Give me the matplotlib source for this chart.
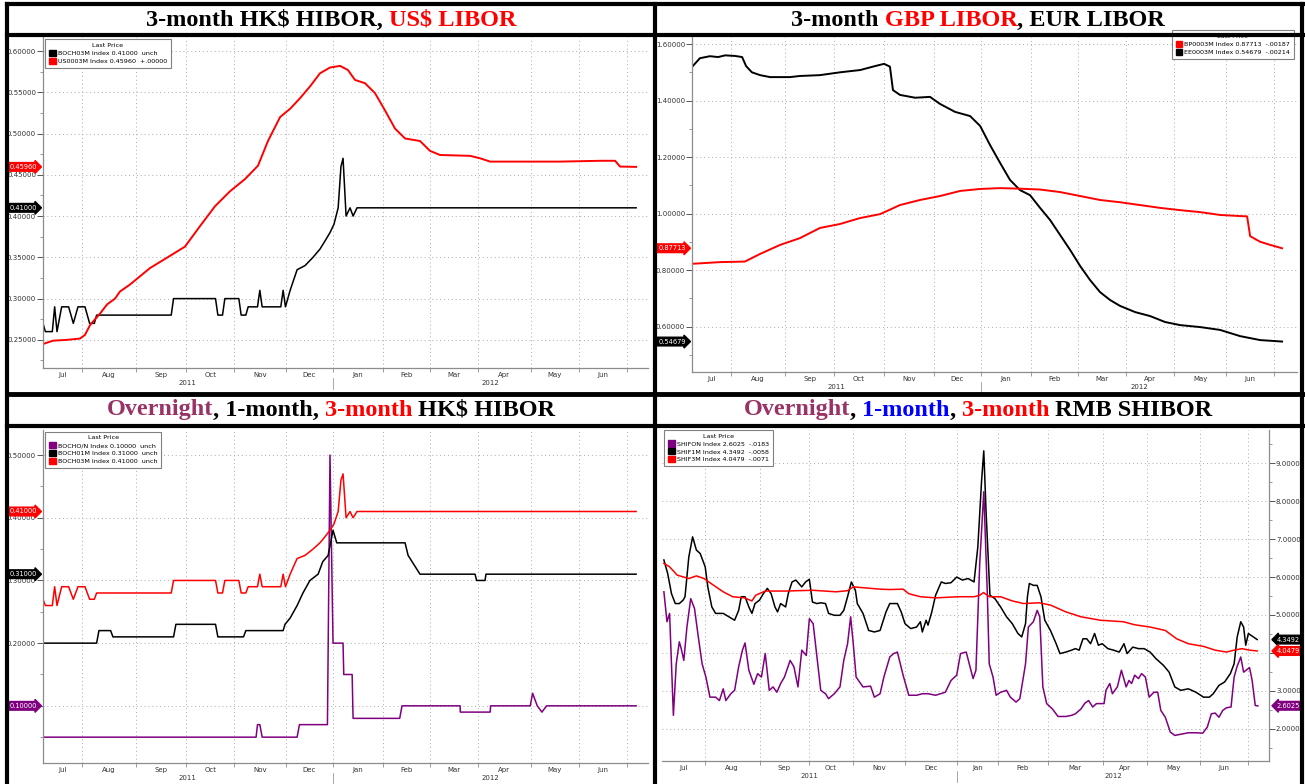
import matplotlib
matplotlib.use('Agg')
import matplotlib.pyplot as plt
from matplotlib import transforms
from matplotlib.lines import Line2D
from matplotlib.patches import Patch
from matplotlib.ticker import MultipleLocator, FuncFormatter

W, H = 1305, 784
plt.rcParams['font.family'] = ['DejaVu Sans']

RED = '#ff0000'
PURPLE = '#800080'
PLUM = '#993366'
BLUE = '#0000ff'
FS = 5.0

months = ['Jul', 'Aug', 'Sep', 'Oct', 'Nov', 'Dec', 'Jan', 'Feb', 'Mar', 'Apr', 'May', 'Jun']
years = ['2011', '2012']

# x is in trading days since the first point; month starts per market calendar
hk_month_starts = [16.8, 39.9, 61.5, 82.1, 104.4, 124.2, 145.9, 165.8, 186.6, 209.2, 230.0, 250.7]
ldn_month_starts = [16.7, 39.8, 61.0, 82.3, 103.6, 124.1, 145.4, 165.5, 186.3, 206.9, 229.2, 249.7]
cn_month_starts = [17.3, 40.3, 61.3, 79.5, 101.6, 123.7, 140.6, 161.8, 185.0, 203.7, 226.0, 246.3]

# ---- HK$ HIBOR 3M (BOCH03M)
hibor3m_d = [0, 1, 4, 5, 6, 8, 11, 13, 15, 18, 20, 22, 23, 55, 56, 74, 75, 77, 78, 84, 85, 87,
             88, 92, 93, 94, 102, 103, 104, 106, 109, 112.4, 115.8, 118.8, 121, 123.1, 124.8,
             126.6, 127.8, 128.7, 130, 131.7, 133, 134.7, 254.4]
hibor3m = [0.27, 0.26, 0.26, 0.29, 0.26, 0.29, 0.29, 0.27, 0.29, 0.29, 0.27, 0.27, 0.28, 0.28,
           0.30, 0.30, 0.28, 0.28, 0.30, 0.30, 0.28, 0.28, 0.29, 0.29, 0.31, 0.29, 0.29, 0.31,
           0.29, 0.31, 0.335, 0.34, 0.35, 0.36, 0.37, 0.38, 0.39, 0.41, 0.46, 0.47, 0.40, 0.41,
           0.40, 0.41, 0.41]

# ---- US$ LIBOR 3M (US0003M)
usd3m_d = [0, 4.3, 10.3, 15.9, 18, 20.2, 24.5, 27.5, 30.9, 33, 37.3, 45.9, 52.3, 60.9, 67.4,
           73.8, 80.2, 86.7, 92.2, 96.5, 101.7, 106, 110.3, 114.5, 118.8, 123.1, 127.4, 130.8,
           133.8, 138.1, 142.4, 146.7, 151, 155.3, 161.7, 166, 170.3, 183.2, 187.5, 191.8,
           221.8, 239, 245.4, 247.5, 254.4]
usd3m = [0.245, 0.249, 0.250, 0.2516, 0.256, 0.268, 0.282, 0.293, 0.300, 0.3085, 0.317, 0.337,
         0.348, 0.363, 0.388, 0.412, 0.430, 0.445, 0.461, 0.491, 0.520, 0.530, 0.543, 0.557,
         0.573, 0.580, 0.582, 0.577, 0.565, 0.561, 0.549, 0.528, 0.506, 0.494, 0.491, 0.479,
         0.474, 0.473, 0.470, 0.466, 0.466, 0.467, 0.467, 0.460, 0.4596]

# ---- EUR LIBOR 3M (EE0003M)
eur3m_d = [0, 3.4, 7.7, 11.2, 14.2, 18.4, 21.5, 23.2, 25.7, 29.2, 33.5, 42, 46.3, 54.9, 63.5,
           72.1, 78.5, 82.4, 84.9, 86.2, 89.2, 95.7, 102.1, 106.4, 112.8, 119.3, 123.6, 127.8,
           132.1, 136.4, 140.7, 145, 149.3, 153.6, 157.9, 162.2, 166.5, 170.7, 175, 179.3,
           183.6, 190.1, 196.5, 202.9, 209.4, 218, 226.5, 235.1, 243.7, 253.1]
eur3m = [1.519, 1.55, 1.557, 1.554, 1.56, 1.558, 1.554, 1.522, 1.50, 1.49, 1.483, 1.483, 1.487,
         1.49, 1.50, 1.508, 1.522, 1.53, 1.52, 1.437, 1.42, 1.41, 1.413, 1.388, 1.36, 1.345,
         1.31, 1.243, 1.18, 1.119, 1.083, 1.065, 1.02, 0.977, 0.924, 0.871, 0.814, 0.765,
         0.722, 0.694, 0.673, 0.651, 0.637, 0.616, 0.605, 0.598, 0.588, 0.566, 0.552, 0.5468]

# ---- GBP LIBOR 3M (BP0003M)
gbp3m_d = [0, 12, 22.7, 29.2, 37.8, 46.3, 54.9, 63.5, 72.1, 80.7, 89.2, 97.8, 106.4, 115,
           123.6, 132.1, 140.7, 149.3, 157.9, 166.5, 175, 183.6, 192.2, 200.8, 209.4, 218,
           226.5, 235.1, 238.1, 239.4, 243.7, 248, 253.1]
gbp3m = [0.822, 0.828, 0.83, 0.857, 0.889, 0.913, 0.949, 0.963, 0.984, 0.998, 1.03, 1.048,
         1.062, 1.08, 1.087, 1.09, 1.088, 1.085, 1.076, 1.062, 1.048, 1.04, 1.03, 1.02, 1.012,
         1.005, 0.995, 0.991, 0.99, 0.92, 0.90, 0.889, 0.8771]

# ---- HK$ HIBOR 1M (BOCH01M)
hibor1m_d = [0, 23, 24, 29, 30, 56, 57, 74, 75, 86, 87, 103, 103.8, 106, 109, 111.5, 114.5, 118,
             120, 122.3, 124.4, 126, 155.3, 156.6, 158.3, 161.7, 185.3, 186, 189.6, 190, 254.4]
hibor1m = [0.20, 0.20, 0.22, 0.22, 0.21, 0.21, 0.23, 0.23, 0.21, 0.21, 0.22, 0.22, 0.23, 0.24,
           0.26, 0.28, 0.30, 0.31, 0.33, 0.34, 0.38, 0.36, 0.36, 0.34, 0.33, 0.31, 0.31, 0.30,
           0.30, 0.31, 0.31]

# ---- HK$ HIBOR O/N (BOCHO/N)
hiboron_d = [0, 91.4, 92, 93, 94, 109, 110, 122, 123.1, 124.4, 128.7, 129, 132.6, 133, 153, 154,
             178.9, 179, 191.8, 192, 209, 210, 212, 214, 216, 254.4]
hiboron = [0.05, 0.05, 0.07, 0.07, 0.05, 0.05, 0.07, 0.07, 0.50, 0.20, 0.20, 0.15, 0.15, 0.08,
           0.08, 0.10, 0.10, 0.09, 0.09, 0.10, 0.10, 0.12, 0.10, 0.09, 0.10, 0.10]

# ---- SHIBOR 1M (SHIF1M)
shib1m_d = [0, 1.6, 3.2, 4.8, 6.5, 8.1, 8.9, 10.5, 12.1, 13.7, 15.3, 17.4, 18.5, 20.2, 21.8, 25,
            27.4, 29.8, 31.5, 32.6, 34.2, 35.8, 37.1, 38.4, 40.3, 41.9, 43.6, 45.2, 46.8, 47.9,
            49.2, 51.3, 52.4, 54, 55.6, 58.1, 59.7, 61.3, 62.6, 64.5, 66.1, 68.1, 69.4, 71.8,
            74.2, 75.8, 77.4, 79, 80.7, 81.5, 83.9, 86.3, 88.7, 91.1, 93.6, 95.2, 98.4, 100,
            101.6, 104, 106.5, 108.1, 108.9, 110.5, 111.3, 112.9, 114.5, 116.9, 118.6, 121,
            123.4, 125.8, 128.2, 130.7, 132.3, 133.9, 134.8, 135.8, 137.4, 139.5, 141.9, 144.4,
            146.8, 149.2, 150.8, 152.4, 153.2, 154, 155.7, 157.3, 158.9, 160.5, 162.9, 165.3,
            166.9, 169.4, 171.8, 173.4, 175, 176.6, 178.2, 179.8, 181.5, 183.1, 184.7, 187.1,
            189.5, 191.9, 193.9, 195.2, 197.6, 200, 202.4, 204.9, 207.3, 210.5, 212.9, 215.3,
            217.8, 221, 224.2, 227.4, 229.9, 231.5, 233.9, 236.3, 238.7, 240.3, 241.6, 243.1,
            244.3, 245.2, 246.3, 248.4, 250]
shib1m = [6.45, 6.09, 5.56, 5.30, 5.30, 5.39, 5.48, 6.53, 7.06, 6.71, 6.62, 6.27, 5.74, 5.21,
          5.04, 5.04, 4.95, 4.86, 5.12, 5.48, 5.48, 5.21, 5.04, 5.30, 5.39, 5.56, 5.70, 5.56,
          5.21, 5.08, 5.30, 5.21, 5.56, 5.87, 5.92, 5.74, 5.87, 5.94, 5.34, 5.30, 5.32, 5.30,
          5.04, 4.99, 4.99, 5.12, 5.48, 5.87, 5.65, 5.30, 5.04, 4.59, 4.55, 4.59, 5.08, 5.30,
          5.30, 5.08, 4.77, 4.64, 4.68, 4.82, 4.55, 4.86, 4.73, 5.08, 5.52, 5.87, 5.83, 5.85,
          6.00, 5.92, 5.96, 5.87, 6.80, 8.56, 9.33, 7.68, 5.52, 5.43, 5.21, 4.95, 4.77, 4.51,
          4.42, 4.77, 5.48, 5.83, 5.78, 5.78, 5.48, 4.86, 4.59, 4.24, 3.98, 4.02, 4.07, 4.11,
          4.07, 4.37, 4.37, 4.24, 4.51, 4.20, 4.24, 4.11, 4.07, 4.02, 4.24, 3.98, 4.15, 4.11,
          4.11, 4.02, 3.85, 3.67, 3.49, 3.10, 3.01, 3.05, 2.96, 2.83, 2.83, 2.92, 3.14, 3.23,
          3.45, 3.71, 4.42, 4.82, 4.68, 4.20, 4.51, 4.42, 4.35]

# ---- SHIBOR 3M (SHIF3M)
shib3m_d = [0, 2.4, 5.6, 10.5, 13.7, 16.9, 21, 25, 29, 33.9, 37.1, 38.7, 42.7, 46.8, 51.6, 56.5,
            62.9, 67.7, 72.6, 77.4, 79.8, 85.5, 91.1, 95.2, 100.8, 103.2, 108.1, 114.5, 124.2,
            130.7, 133.1, 134.7, 137.1, 141.9, 146.8, 151.6, 158.1, 162.9, 169.4, 175.8, 183.9,
            193.6, 198.4, 204.9, 211.3, 216.1, 221, 227.4, 232.3, 237.1, 240.3, 243.6, 246.8, 250]
shib3m = [6.36, 6.27, 6.05, 5.96, 6.03, 5.96, 5.78, 5.61, 5.48, 5.45, 5.37, 5.52, 5.63, 5.63,
          5.63, 5.64, 5.65, 5.63, 5.61, 5.64, 5.74, 5.71, 5.68, 5.67, 5.68, 5.56, 5.48, 5.45,
          5.48, 5.48, 5.52, 5.59, 5.48, 5.48, 5.37, 5.30, 5.32, 5.26, 5.08, 4.95, 4.86, 4.82,
          4.74, 4.68, 4.59, 4.37, 4.24, 4.17, 4.07, 4.02, 4.07, 4.11, 4.07, 4.05]

# ---- SHIBOR O/N (SHIFON)
shibon_d = [0, 1.3, 2.4, 4, 5.2, 6.5, 7.3, 8.4, 9.7, 11.3, 12.9, 14.5, 16.1, 17.7, 19.4, 21.8,
            23.4, 25, 26.1, 28.2, 29.8, 31.5, 33.1, 34.2, 35.8, 37.9, 39.5, 41.1, 42.7, 44.4, 46,
            47.6, 49.2, 50.8, 53.2, 54.8, 56.5, 58.1, 60, 61.3, 62.9, 64.5, 66.1, 68.1, 69.4,
            71.8, 74.2, 75.8, 77.4, 78.7, 79.8, 81, 83.9, 87.1, 88.7, 91.1, 92.7, 95.2, 96.8,
            98.4, 100.8, 103.2, 106.5, 108.9, 111.3, 114.5, 118.6, 121, 123.4, 125, 127.4, 129,
            130.3, 131.5, 133.1, 134.8, 136.3, 137.1, 138.7, 140, 141.9, 144.4, 146, 148.4, 150,
            150.8, 152.4, 153.6, 155.7, 157.3, 158.4, 159.7, 161.3, 163.7, 166.1, 169.4, 171.8,
            173.4, 175.8, 177.4, 179, 180.7, 182.3, 185.5, 186.3, 187.9, 189, 191.1, 192.8,
            194.8, 196, 197.1, 198.4, 200, 201.3, 202.9, 204.5, 206.5, 208.1, 209.4, 211.3,
            213.4, 215.3, 217.8, 221, 224.2, 227.1, 229, 230.7, 232.3, 233.9, 235.5, 237.1, 239,
            240.3, 241.5, 243.1, 244.3, 246.8, 247.9, 249.2, 250.3]
shibon = [5.61, 4.82, 5.04, 2.35, 3.71, 4.29, 4.11, 3.80, 4.68, 5.43, 5.17, 4.42, 3.71, 3.36,
          2.83, 2.83, 2.74, 3.05, 2.74, 2.92, 3.01, 3.63, 4.07, 4.26, 3.54, 3.17, 3.45, 3.36,
          3.98, 3.01, 3.10, 2.96, 3.19, 3.36, 3.80, 3.63, 3.10, 4.07, 3.93, 4.90, 4.77, 3.89,
          3.01, 2.92, 2.79, 2.92, 3.10, 3.80, 4.24, 4.95, 4.24, 3.36, 3.10, 3.12, 2.83, 2.92,
          3.36, 3.89, 3.98, 4.02, 3.41, 2.88, 2.88, 2.92, 2.92, 2.88, 2.96, 3.27, 3.41, 3.98,
          4.02, 3.63, 3.32, 3.54, 6.36, 8.25, 5.56, 3.71, 3.36, 2.88, 2.96, 3.01, 2.83, 2.70,
          2.79, 3.10, 3.71, 4.68, 4.82, 5.12, 4.95, 3.10, 2.66, 2.52, 2.32, 2.32, 2.35, 2.39,
          2.52, 2.67, 2.74, 2.57, 2.66, 2.66, 3.01, 3.19, 2.92, 3.10, 3.54, 3.10, 3.27, 3.19,
          3.41, 3.32, 3.45, 3.36, 2.83, 2.96, 2.96, 2.48, 2.30, 1.91, 1.82, 1.85, 1.89, 1.89,
          1.88, 2.04, 2.39, 2.41, 2.30, 2.48, 2.55, 2.57, 3.36, 3.63, 3.89, 3.49, 3.61, 3.27,
          2.61, 2.60]

fig = plt.figure(figsize=(W / 100, H / 100), dpi=100)
fig.patch.set_facecolor('white')


def axes_px(x0, y0, x1, y1):
    return fig.add_axes([x0 / W, 1 - y1 / H, (x1 - x0) / W, (y1 - y0) / H])


def style(ax, xlim, starts, ylim, ystep, ndec, side='left', hide=()):
    """bloomberg-ish axes: dotted grid, month labels, years underneath"""
    ax.set_xlim(xlim)
    ax.set_ylim(ylim)
    for s in ['top', 'right', 'left', 'bottom']:
        ax.spines[s].set_visible(False)
    for s in ['bottom', side]:
        ax.spines[s].set_visible(True)
        ax.spines[s].set_color('#8c8c8c')
        ax.spines[s].set_linewidth(0.9)
    edges = [xlim[0]] + starts
    centers = [(a + b) / 2 for a, b in zip(edges[:-1], edges[1:])]
    ax.set_xticks(starts)
    ax.set_xticklabels([])
    ax.set_xticks(centers, minor=True)
    ax.set_xticklabels(months, minor=True)
    ax.tick_params(axis='x', which='major', length=3, width=0.6, color='#8c8c8c')
    ax.tick_params(axis='x', which='minor', length=0, pad=3, labelsize=FS, labelcolor='#333333')
    ax.yaxis.set_major_locator(MultipleLocator(ystep))
    ax.yaxis.set_minor_locator(MultipleLocator(ystep / 2))

    def fmt(v, pos):
        if any(abs(v - h) < 1e-9 for h in hide):
            return ''
        return f'{v:.{ndec}f}'
    ax.yaxis.set_major_formatter(FuncFormatter(fmt))
    if side == 'right':
        ax.yaxis.tick_right()
    ax.tick_params(axis='y', which='major', length=4, width=0.7, color='#555555',
                   labelsize=FS, labelcolor='#333333', pad=1)
    ax.tick_params(axis='y', which='minor', length=2, width=0.6, color='#888888')
    ax.grid(True, which='major', linestyle=(0, (1, 3)), color='#aaaaaa', linewidth=0.7)
    ax.set_axisbelow(True)
    jan = starts[5]
    tr = transforms.blended_transform_factory(ax.transData, ax.transAxes)
    hpx = ax.get_position().height * H
    for txt, xc in zip(years, [(xlim[0] + jan) / 2, (jan + xlim[1]) / 2]):
        ax.text(xc, -15 / hpx, txt, transform=tr, ha='center', va='center',
                fontsize=FS, color='#333333')
    ax.plot([jan, jan], [-10 / hpx, -21 / hpx], transform=tr, clip_on=False,
            color='#999999', lw=0.6)


def tag(ax, v, txt, color, side='left'):
    tr = transforms.blended_transform_factory(ax.transAxes, ax.transData)
    if side == 'left':
        ax.annotate(txt, xy=(0, v), xycoords=tr, xytext=(-4.5, 0), textcoords='offset points',
                    ha='right', va='center', fontsize=4.8, color='white', annotation_clip=False,
                    zorder=5, bbox=dict(boxstyle='rarrow,pad=0.2', fc=color, ec=color))
    else:
        ax.annotate(txt, xy=(1, v), xycoords=tr, xytext=(5.5, 0), textcoords='offset points',
                    ha='left', va='center', fontsize=4.8, color='white', annotation_clip=False,
                    zorder=5, bbox=dict(boxstyle='larrow,pad=0.2', fc=color, ec=color))


def legend(ax, labels, colors, loc, anchor):
    handles = [Patch(facecolor=c, edgecolor=c) for c in colors]
    lg = ax.legend(handles, labels, title='Last Price', loc=loc, bbox_to_anchor=anchor,
                   fontsize=4.6, title_fontsize=4.6, frameon=True, fancybox=False,
                   edgecolor='#808080', framealpha=1, handlelength=1.0, handleheight=1.1,
                   handletextpad=0.3, labelspacing=0.25, borderpad=0.6, borderaxespad=0)
    lg.get_frame().set_linewidth(0.8)


def title(pieces, cx, cy):
    r = fig.canvas.get_renderer()
    kw = dict(fontsize=17.5, fontweight='bold', family='Liberation Serif', va='center',
              parse_math=False)
    probe1 = fig.text(0, 0, 'x x', **kw)
    probe2 = fig.text(0, 0, 'xx', **kw)
    sw = probe1.get_window_extent(r).width - probe2.get_window_extent(r).width
    probe1.remove()
    probe2.remove()
    items = []
    for s, c in pieces:
        lead = len(s) - len(s.lstrip(' '))
        trail = len(s) - len(s.rstrip(' '))
        t = fig.text(0, 1 - cy / H, s.strip(' '), color=c, **kw)
        items.append((t, lead * sw, t.get_window_extent(r).width, trail * sw))
    total = sum(a + b + c for _, a, b, c in items)
    x = cx - total / 2
    for t, a, b, c in items:
        x += a
        t.set_x(x / W)
        x += b + c


def frame_line(x0, y0, x1, y1, lw=3.0):
    fig.add_artist(Line2D([x0 / W, x1 / W], [1 - y0 / H, 1 - y1 / H], transform=fig.transFigure,
                          color='black', linewidth=lw, solid_capstyle='projecting'))


# ---------------- top left: HK$ HIBOR 3M and US$ LIBOR 3M
ax1 = axes_px(43, 37, 648, 368)
ax1.plot(hibor3m_d, hibor3m, color='black', lw=1.1)
ax1.plot(usd3m_d, usd3m, color=RED, lw=1.4)
style(ax1, (0, 259.5), hk_month_starts, (0.2159, 0.617), 0.05, 5)
tag(ax1, 0.4596, '0.45960', RED)
tag(ax1, 0.41, '0.41000', 'black')
legend(ax1, ['BOCH03M Index 0.41000  unch', 'US0003M Index 0.45960  +.00000'],
       ['black', RED], 'upper left', (0.004, 0.993))

# ---------------- top right: GBP and EUR LIBOR 3M
ax2 = axes_px(692, 37, 1297, 372)
ax2.plot(eur3m_d, eur3m, color='black', lw=1.4)
ax2.plot(gbp3m_d, gbp3m, color=RED, lw=1.4)
style(ax2, (0, 259.5), ldn_month_starts, (0.439, 1.625), 0.2, 5)
tag(ax2, 0.87713, '0.87713', RED)
tag(ax2, 0.54679, '0.54679', 'black')
legend(ax2, ['BP0003M Index 0.87713  -.00187', 'EE0003M Index 0.54679  -.00214'],
       [RED, 'black'], 'upper right', (0.995, 1.02))

# ---------------- bottom left: HK$ HIBOR O/N, 1M, 3M
ax3 = axes_px(43, 430, 648, 763)
ax3.plot(hiboron_d, hiboron, color=PURPLE, lw=1.1)
ax3.plot(hibor1m_d, hibor1m, color='black', lw=1.1)
ax3.plot(hibor3m_d, hibor3m, color=RED, lw=1.1)
style(ax3, (0, 259.5), hk_month_starts, (0.0088, 0.540), 0.1, 5, hide=(0.1,))
tag(ax3, 0.41, '0.41000', RED)
tag(ax3, 0.31, '0.31000', 'black')
tag(ax3, 0.10, '0.10000', PURPLE)
legend(ax3, ['BOCHO/N Index 0.10000  unch', 'BOCH01M Index 0.31000  unch',
             'BOCH03M Index 0.41000  unch'],
       [PURPLE, 'black', RED], 'upper left', (0.004, 0.995))

# ---------------- bottom right: RMB SHIBOR O/N, 1M, 3M
ax4 = axes_px(662, 430, 1269, 761)
ax4.plot(shibon_d, shibon, color=PURPLE, lw=1.1)
ax4.plot(shib1m_d, shib1m, color='black', lw=1.1)
ax4.plot(shib3m_d, shib3m, color=RED, lw=1.1)
style(ax4, (-0.8, 255), cn_month_starts, (1.145, 9.88), 1.0, 4, side='right', hide=(4.0,))
tag(ax4, 4.3492, '4.3492', 'black', side='right')
tag(ax4, 4.0479, '4.0479', RED, side='right')
tag(ax4, 2.6025, '2.6025', PURPLE, side='right')
legend(ax4, ['SHIFON Index 2.6025  -.0183', 'SHIF1M Index 4.3492  -.0058',
             'SHIF3M Index 4.0479  -.0071'],
       [PURPLE, 'black', RED], 'upper left', (0.004, 1.0))

# ---------------- panel frames and titles
frame_line(7, 4, 1303, 4)
frame_line(7, 4, 7, 784)
frame_line(1302, 4, 1302, 784)
frame_line(655, 4, 655, 784)
frame_line(7, 35, 1303, 35)
frame_line(7, 394, 1303, 394, lw=3.5)
frame_line(7, 426, 1303, 426)

title([('3-month HK$ HIBOR, ', 'black'), ('US$ LIBOR', RED)], 331, 20)
title([('3-month ', 'black'), ('GBP LIBOR', RED), (', EUR LIBOR', 'black')], 978, 20)
title([('Overnight', PLUM), (', 1-month, ', 'black'), ('3-month', RED), (' HK$ HIBOR', 'black')],
      331, 410)
title([('Overnight', PLUM), (', ', 'black'), ('1-month', BLUE), (', ', 'black'),
       ('3-month', RED), (' RMB SHIBOR', 'black')], 978, 410)

fig.savefig('out.png', dpi=100)
